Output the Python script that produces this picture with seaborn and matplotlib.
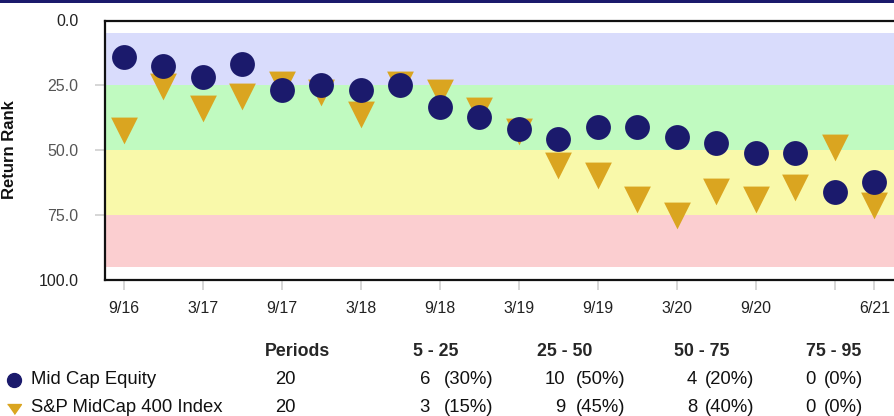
import numpy as np
import pandas as pd
import matplotlib
matplotlib.use("Agg")
import matplotlib.pyplot as plt
import seaborn as sns
from matplotlib.lines import Line2D
from matplotlib.patches import Rectangle

# ---------------- data ----------------
periods = ["9/16", "12/16", "3/17", "6/17", "9/17", "12/17", "3/18", "6/18", "9/18", "12/18",
           "3/19", "6/19", "9/19", "12/19", "3/20", "6/20", "9/20", "12/20", "3/21", "6/21"]
mid_cap = [14.2, 17.5, 22.0, 16.7, 26.7, 24.9, 26.7, 24.9, 33.5, 37.2,
           41.8, 45.7, 41.0, 41.0, 44.9, 47.2, 51.1, 51.1, 66.4, 62.5]
sp400 = [40.6, 23.7, 32.3, 27.6, 23.1, 26.1, 34.5, 23.1, 26.1, 33.0,
         41.3, 54.4, 58.2, 67.3, 73.5, 64.4, 67.3, 62.7, 47.4, 69.7]
series_names = ["Mid Cap Equity", "S&P MidCap 400 Index"]

tick_periods = ["9/16", "3/17", "9/17", "3/18", "9/18", "3/19", "9/19", "3/20", "9/20", "3/21", "6/21"]
tick_labels = ["9/16", "3/17", "9/17", "3/18", "9/18", "3/19", "9/19", "3/20", "9/20", "", "6/21"]

band_edges = [5, 25, 50, 75, 95]
band_colors = ["#D9DCFC", "#C0FAC0", "#F9F9AA", "#FBCED0"]
ytick_vals = [0, 25, 50, 75, 100]

table_headers = ["5 - 25", "25 - 50", "50 - 75", "75 - 95"]
table_periods = [20, 20]
table_counts = [[6, 10, 4, 0], [3, 9, 8, 0]]
table_pcts = [["(30%)", "(50%)", "(20%)", "(0%)"], ["(15%)", "(45%)", "(40%)", "(0%)"]]

NAVY = "#1B1A6C"
GOLD = "#DAA520"

# ---------------- figure ----------------
W, H = 894, 416
fig = plt.figure(figsize=(W / 100, H / 100), dpi=100)
sns.set_style("white")
plt.rcParams["font.family"] = ["Liberation Sans", "DejaVu Sans"]


def fx(px):
    return px / W


def fy(py):
    return 1 - py / H


ax_left, ax_right, ax_top, ax_bot = 105, 896, 20.5, 279.5
ax = fig.add_axes([fx(ax_left), fy(ax_bot), fx(ax_right - ax_left), (ax_bot - ax_top) / H])

df = pd.DataFrame({
    "idx": np.arange(len(periods)),
    "period": periods,
    "mid": mid_cap,
    "sp": sp400,
})

for lo, hi, c in zip(band_edges[:-1], band_edges[1:], band_colors):
    ax.axhspan(lo, hi, color=c, lw=0, zorder=0)

tri = [(-1.5, 1.0), (1.5, 1.0), (0.0, -2.0)]  # centroid at origin
sns.scatterplot(data=df, x="idx", y="sp", ax=ax, marker=tri, s=660, color=GOLD,
                linewidth=0, zorder=3, legend=False)
sns.scatterplot(data=df, x="idx", y="mid", ax=ax, marker="o", s=320, color=NAVY,
                linewidth=0, zorder=4, legend=False)

ax.set_xlim(-0.481, -0.481 + (ax_right - ax_left) / 39.5)
ax.set_ylim(100, 0)

xt = [periods.index(p) for p in tick_periods]
ax.set_xticks(xt)
ax.set_xticklabels(tick_labels)
ax.set_yticks(ytick_vals)
ax.set_yticklabels([f"{v:.1f}" for v in ytick_vals])

ax.tick_params(axis="x", direction="out", length=7.5, width=1.2, color="#d0d0d0",
               pad=8, labelsize=11.5, labelcolor="#222222", bottom=True)
ax.tick_params(axis="y", direction="out", length=7.5, width=1.2, color="#d0d0d0",
               pad=11.5, labelsize=11.5, labelcolor="#555555", left=True)
ylabels = ax.get_yticklabels()
ylabels[0].set_color("#222222")
ylabels[-1].set_color("#222222")
yticks = ax.yaxis.get_major_ticks()
yticks[0].tick1line.set_visible(False)
yticks[-1].tick1line.set_visible(False)

ax.set_xlabel("")
ax.set_ylabel("Return Rank", fontsize=12, fontweight="bold", color="#111111")
ax.yaxis.set_label_coords((17 - ax_left) / (ax_right - ax_left), 0.5)

for side in ["top", "bottom", "left"]:
    ax.spines[side].set_visible(True)
    ax.spines[side].set_color("#111111")
    ax.spines[side].set_linewidth(1.6)
ax.spines["right"].set_visible(False)
ax.grid(False)

# top navy rule
fig.add_artist(Rectangle((0, fy(2.5)), 1, 2.5 / H, transform=fig.transFigure,
                         color=NAVY, lw=0))

# ---------------- summary table ----------------
fs = 13.3
hfs = 12.8
hy, r1, r2 = 352, 380, 407
fig.text(fx(298), fy(hy), "Periods", ha="center", va="center", fontsize=hfs, fontweight="bold")
head_x = [436, 565, 702, 834]
for x, h in zip(head_x, table_headers):
    fig.text(fx(x), fy(hy), h, ha="center", va="center", fontsize=hfs, fontweight="bold")

leg_tri = [(-1.4, 1.0), (1.4, 1.0), (0.0, -1.0)]
fig.add_artist(Line2D([fx(14)], [fy(r1)], marker="o", markersize=10, color=NAVY, lw=0,
                      transform=fig.transFigure))
fig.add_artist(Line2D([fx(14)], [fy(r2 + 1.5)], marker=leg_tri, markersize=10, color=GOLD, lw=0,
                      transform=fig.transFigure))

count_x = [430, 565, 697, 816]
pct_x = [444, 576, 705, 824]
for ry, name, per, counts, pcts in zip([r1, r2], series_names, table_periods, table_counts, table_pcts):
    fig.text(fx(31), fy(ry), name, ha="left", va="center", fontsize=fs, color="#111111")
    fig.text(fx(296), fy(ry), str(per), ha="right", va="center", fontsize=fs, color="#111111")
    for cx, px, c, p in zip(count_x, pct_x, counts, pcts):
        fig.text(fx(cx), fy(ry), str(c), ha="right", va="center", fontsize=fs, color="#111111")
        fig.text(fx(px), fy(ry), p, ha="left", va="center", fontsize=fs, color="#111111")

fig.savefig("out.png", dpi=100)
